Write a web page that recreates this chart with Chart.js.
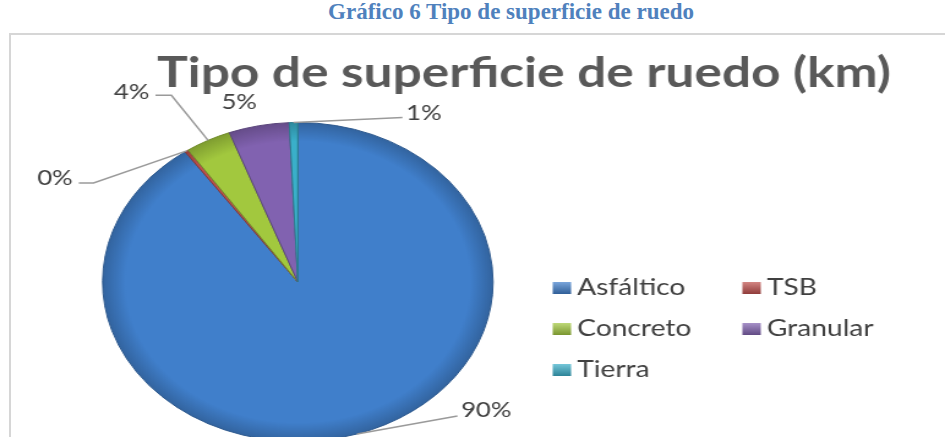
<!DOCTYPE html>
<html><head><meta charset="utf-8">
<script src="https://cdn.jsdelivr.net/npm/chart.js@4.4.1/dist/chart.umd.min.js"></script>
<style>
html,body{margin:0;padding:0;width:945px;height:437px;overflow:hidden;background:#fff;}
#heading{position:absolute;left:0;top:0px;width:1022px;text-align:center;font:bold 23px "Liberation Serif","Times New Roman",serif;color:#4F81BD;line-height:24px;}
#box{position:absolute;left:9px;top:33px;width:1000px;height:500px;border:2px solid #d6d6d6;box-sizing:border-box;}
#c{position:absolute;left:0;top:0;transform:scaleX(1.2241);transform-origin:0 0;}
</style></head><body>
<div id="heading">Gráfico 6 Tipo de superficie de ruedo</div>
<div id="box"></div>
<canvas id="c" width="772" height="450"></canvas>
<script>
// ---- data ----
const chartTitle = 'Tipo de superficie de ruedo (km)';
const categories = ['Asfáltico', 'TSB', 'Concreto', 'Granular', 'Tierra'];
const shares = [90.2, 0.3, 3.8, 5.0, 0.7];
const colors = ['#407FCB', '#C0504D', '#A2C83E', '#8162B0', '#3AAFC9'];

// ---- helpers ----
function shade(hex, f) {
  const n = parseInt(hex.slice(1), 16);
  let r = (n >> 16) & 255, g = (n >> 8) & 255, b = n & 255;
  const t = f < 0 ? 0 : 255, p = Math.abs(f);
  r = Math.round((t - r) * p + r); g = Math.round((t - g) * p + g); b = Math.round((t - b) * p + b);
  return 'rgb(' + r + ',' + g + ',' + b + ')';
}

const titlePlugin = {
  id: 'bigTitle',
  afterDraw(chart, args, o) {
    const ctx = chart.ctx;
    ctx.save();
    ctx.font = o.font; ctx.fillStyle = o.color;
    ctx.textAlign = 'center'; ctx.textBaseline = 'alphabetic';
    ctx.fillText(o.text, o.x, o.y);
    ctx.restore();
  }
};

const sliceLabels = {
  id: 'sliceLabels',
  afterDatasetsDraw(chart, args, o) {
    const ctx = chart.ctx;
    const meta = chart.getDatasetMeta(0);
    const data = chart.data.datasets[0].data;
    const total = data.reduce((a, b) => a + b, 0);
    ctx.save();
    ctx.font = o.font; ctx.fillStyle = o.color;
    ctx.strokeStyle = o.lineColor; ctx.lineWidth = o.lineWidth;
    meta.data.forEach((arc, i) => {
      const p = arc.getProps(['x', 'y', 'startAngle', 'endAngle', 'outerRadius'], true);
      const mid = (p.startAngle + p.endAngle) / 2;
      const ex = p.x + Math.cos(mid) * p.outerRadius;
      const ey = p.y + Math.sin(mid) * p.outerRadius;
      const L = o.layout[i];
      const ax = ex + L.dx, ay = ey + L.dy;
      let tx = ax;
      if (L.line) {
        ctx.beginPath();
        ctx.moveTo(ex, ey);
        ctx.lineTo(ax, ay);
        if (L.tail) ctx.lineTo(ax + L.tail, ay);
        ctx.stroke();
        tx = ax + (L.tail || 0);
      }
      const txt = Math.round(data[i] / total * 100) + '%';
      ctx.textAlign = L.align; ctx.textBaseline = 'middle';
      const gap = L.align === 'left' ? 3 : (L.align === 'right' ? -5 : 0);
      ctx.fillText(txt, tx + gap, ay + L.ty);
    });
    ctx.restore();
  }
};

const gridLegend = {
  id: 'gridLegend',
  afterDraw(chart, args, o) {
    const ctx = chart.ctx;
    ctx.save();
    ctx.font = o.font; ctx.textBaseline = 'middle'; ctx.textAlign = 'left';
    chart.data.labels.forEach((lab, i) => {
      const col = i % o.columns, row = Math.floor(i / o.columns);
      const x = o.x + col * o.colWidth, y = o.y + row * o.rowHeight;
      const c = colors[i];
      const g = ctx.createLinearGradient(0, y - o.boxH / 2, 0, y + o.boxH / 2);
      g.addColorStop(0, shade(c, 0.3)); g.addColorStop(1, shade(c, -0.25));
      ctx.fillStyle = g;
      ctx.fillRect(x, y - o.boxH / 2, o.boxW, o.boxH);
      ctx.fillStyle = o.color;
      ctx.fillText(lab, x + o.textOffset, y);
    });
    ctx.restore();
  }
};

new Chart(document.getElementById('c'), {
  type: 'pie',
  data: {
    labels: categories,
    datasets: [{
      data: shares,
      backgroundColor: (c) => {
        const chart = c.chart, i = c.dataIndex, a = chart.chartArea;
        if (!a) return colors[i];
        const x = (a.left + a.right) / 2, y = (a.top + a.bottom) / 2;
        const r = Math.min(a.right - a.left, a.bottom - a.top) / 2;
        const g = chart.ctx.createRadialGradient(x, y, 0, x, y, r);
        g.addColorStop(0, colors[i]);
        g.addColorStop(0.88, colors[i]);
        g.addColorStop(1, shade(colors[i], -0.22));
        return g;
      },
      borderColor: colors.map(c => shade(c, -0.3)),
      borderWidth: 1
    }]
  },
  options: {
    responsive: false,
    animation: false,
    layout: { padding: { left: 83.3, right: 368.7, top: 122, bottom: 8 } },
    plugins: {
      legend: { display: false },
      tooltip: { enabled: false },
      bigTitle: { text: chartTitle, font: 'bold 42px Lato', color: '#595959', x: 428, y: 87 },
      sliceLabels: {
        font: '21px Lato', color: '#404040', lineColor: '#9a9a9a', lineWidth: 1.5,
        layout: [
          { dx: 82, dy: -18, line: true, tail: 0, align: 'left', ty: -6 },
          { dx: -76, dy: 32, line: true, tail: -12, align: 'right', ty: -5 },
          { dx: -30, dy: -45, line: true, tail: -13, align: 'right', ty: -3 },
          { dx: -16, dy: -23, line: false, align: 'center', ty: 0 },
          { dx: 89, dy: -5, line: true, tail: 0, align: 'left', ty: -4 }
        ]
      },
      gridLegend: {
        font: '23px Lato', color: '#404040', x: 451.5, y: 288, columns: 2,
        colWidth: 155, rowHeight: 41, boxW: 15, boxH: 12, textOffset: 20
      }
    }
  },
  plugins: [titlePlugin, sliceLabels, gridLegend]
});
</script>
</body></html>
